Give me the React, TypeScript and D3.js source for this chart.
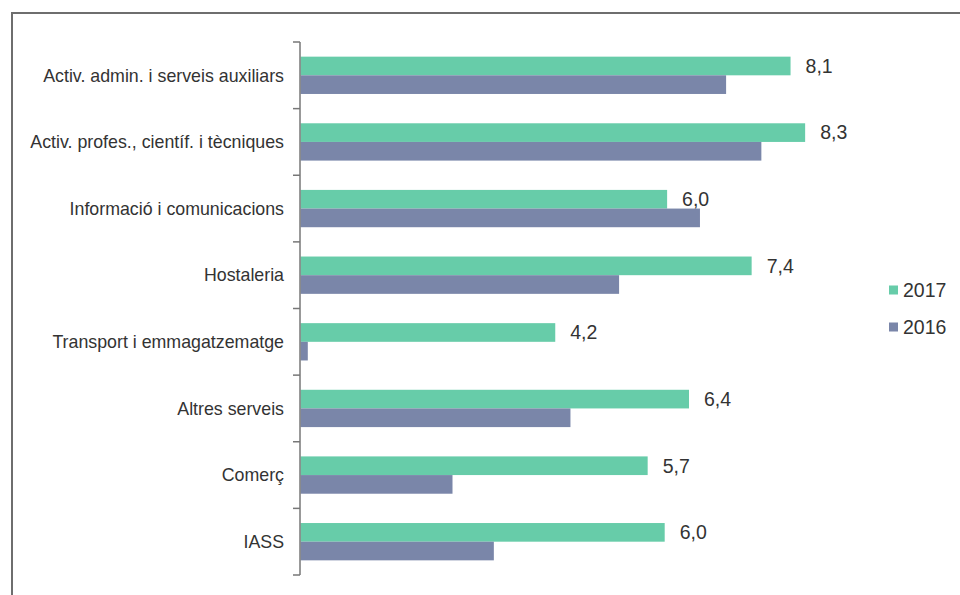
import React from "react";
import * as d3 from "d3";

const categories = [
  "Activ. admin. i serveis auxiliars",
  "Activ. profes., científ. i tècniques",
  "Informació i comunicacions",
  "Hostaleria",
  "Transport i emmagatzematge",
  "Altres serveis",
  "Comerç",
  "IASS",
];
const values2017 = [8.06, 8.3, 6.03, 7.42, 4.19, 6.39, 5.71, 5.99];
const values2016 = [7.0, 7.58, 6.57, 5.24, 0.12, 4.44, 2.5, 3.18];
const seriesNames = ["2017", "2016"];
const seriesColors = ["#67CCA9", "#7A86A9"];

const W = 960;
const H = 595;

export default function App() {
  const x = d3.scaleLinear().domain([0, 10]).range([300.5, 300.5 + 608]);
  const y = d3
    .scaleBand<string>()
    .domain(categories)
    .range([42, 575])
    .paddingInner(0.44)
    .paddingOuter(0.22);
  const sub = d3
    .scaleBand<string>()
    .domain(seriesNames)
    .range([0, y.bandwidth()]);
  const series = [values2017, values2016];
  const fmt = (v: number) => v.toFixed(1).replace(".", ",");
  const step = y.step();
  const tickYs = d3.range(categories.length + 1).map((i) => 42 + i * step);
  const font = "'Liberation Sans', Arial, sans-serif";

  return (
    <svg
      width={W}
      height={H}
      style={{ position: "absolute", left: 0, top: 0, background: "#fff" }}
      fontFamily={font}
    >
      <rect x={12} y={13} width={W + 20} height={H + 20} fill="#fff" stroke="#6e6e6e" strokeWidth={2} />
      {categories.map((c, i) => (
        <g key={c}>
          {series.map((vals, s) => (
            <rect
              key={s}
              x={x(0)}
              y={(y(c) as number) + (sub(seriesNames[s]) as number)}
              width={x(vals[i]) - x(0)}
              height={sub.bandwidth()}
              fill={seriesColors[s]}
            />
          ))}
          <text
            x={x(values2017[i]) + 15}
            y={(y(c) as number) + sub.bandwidth() / 2}
            dy="0.35em"
            fontSize={19.5}
            fill="#333"
          >
            {fmt(values2017[i])}
          </text>
          <text
            x={284}
            y={(y(c) as number) + y.bandwidth() / 2}
            dy="0.35em"
            textAnchor="end"
            fontSize={17.8}
            fill="#333"
          >
            {c}
          </text>
        </g>
      ))}
      <line x1={300} x2={300} y1={42} y2={575} stroke="#777" strokeWidth={1.5} />
      {tickYs.map((ty, i) => (
        <line key={i} x1={293} x2={300} y1={ty} y2={ty} stroke="#777" strokeWidth={1.5} />
      ))}
      {seriesNames.map((n, i) => (
        <g key={n} transform={`translate(889, ${290 + i * 37})`}>
          <rect x={0} y={-4.5} width={9} height={9} fill={seriesColors[i]} />
          <text x={14} y={0} dy="0.35em" fontSize={19.5} fill="#333">
            {n}
          </text>
        </g>
      ))}
    </svg>
  );
}
